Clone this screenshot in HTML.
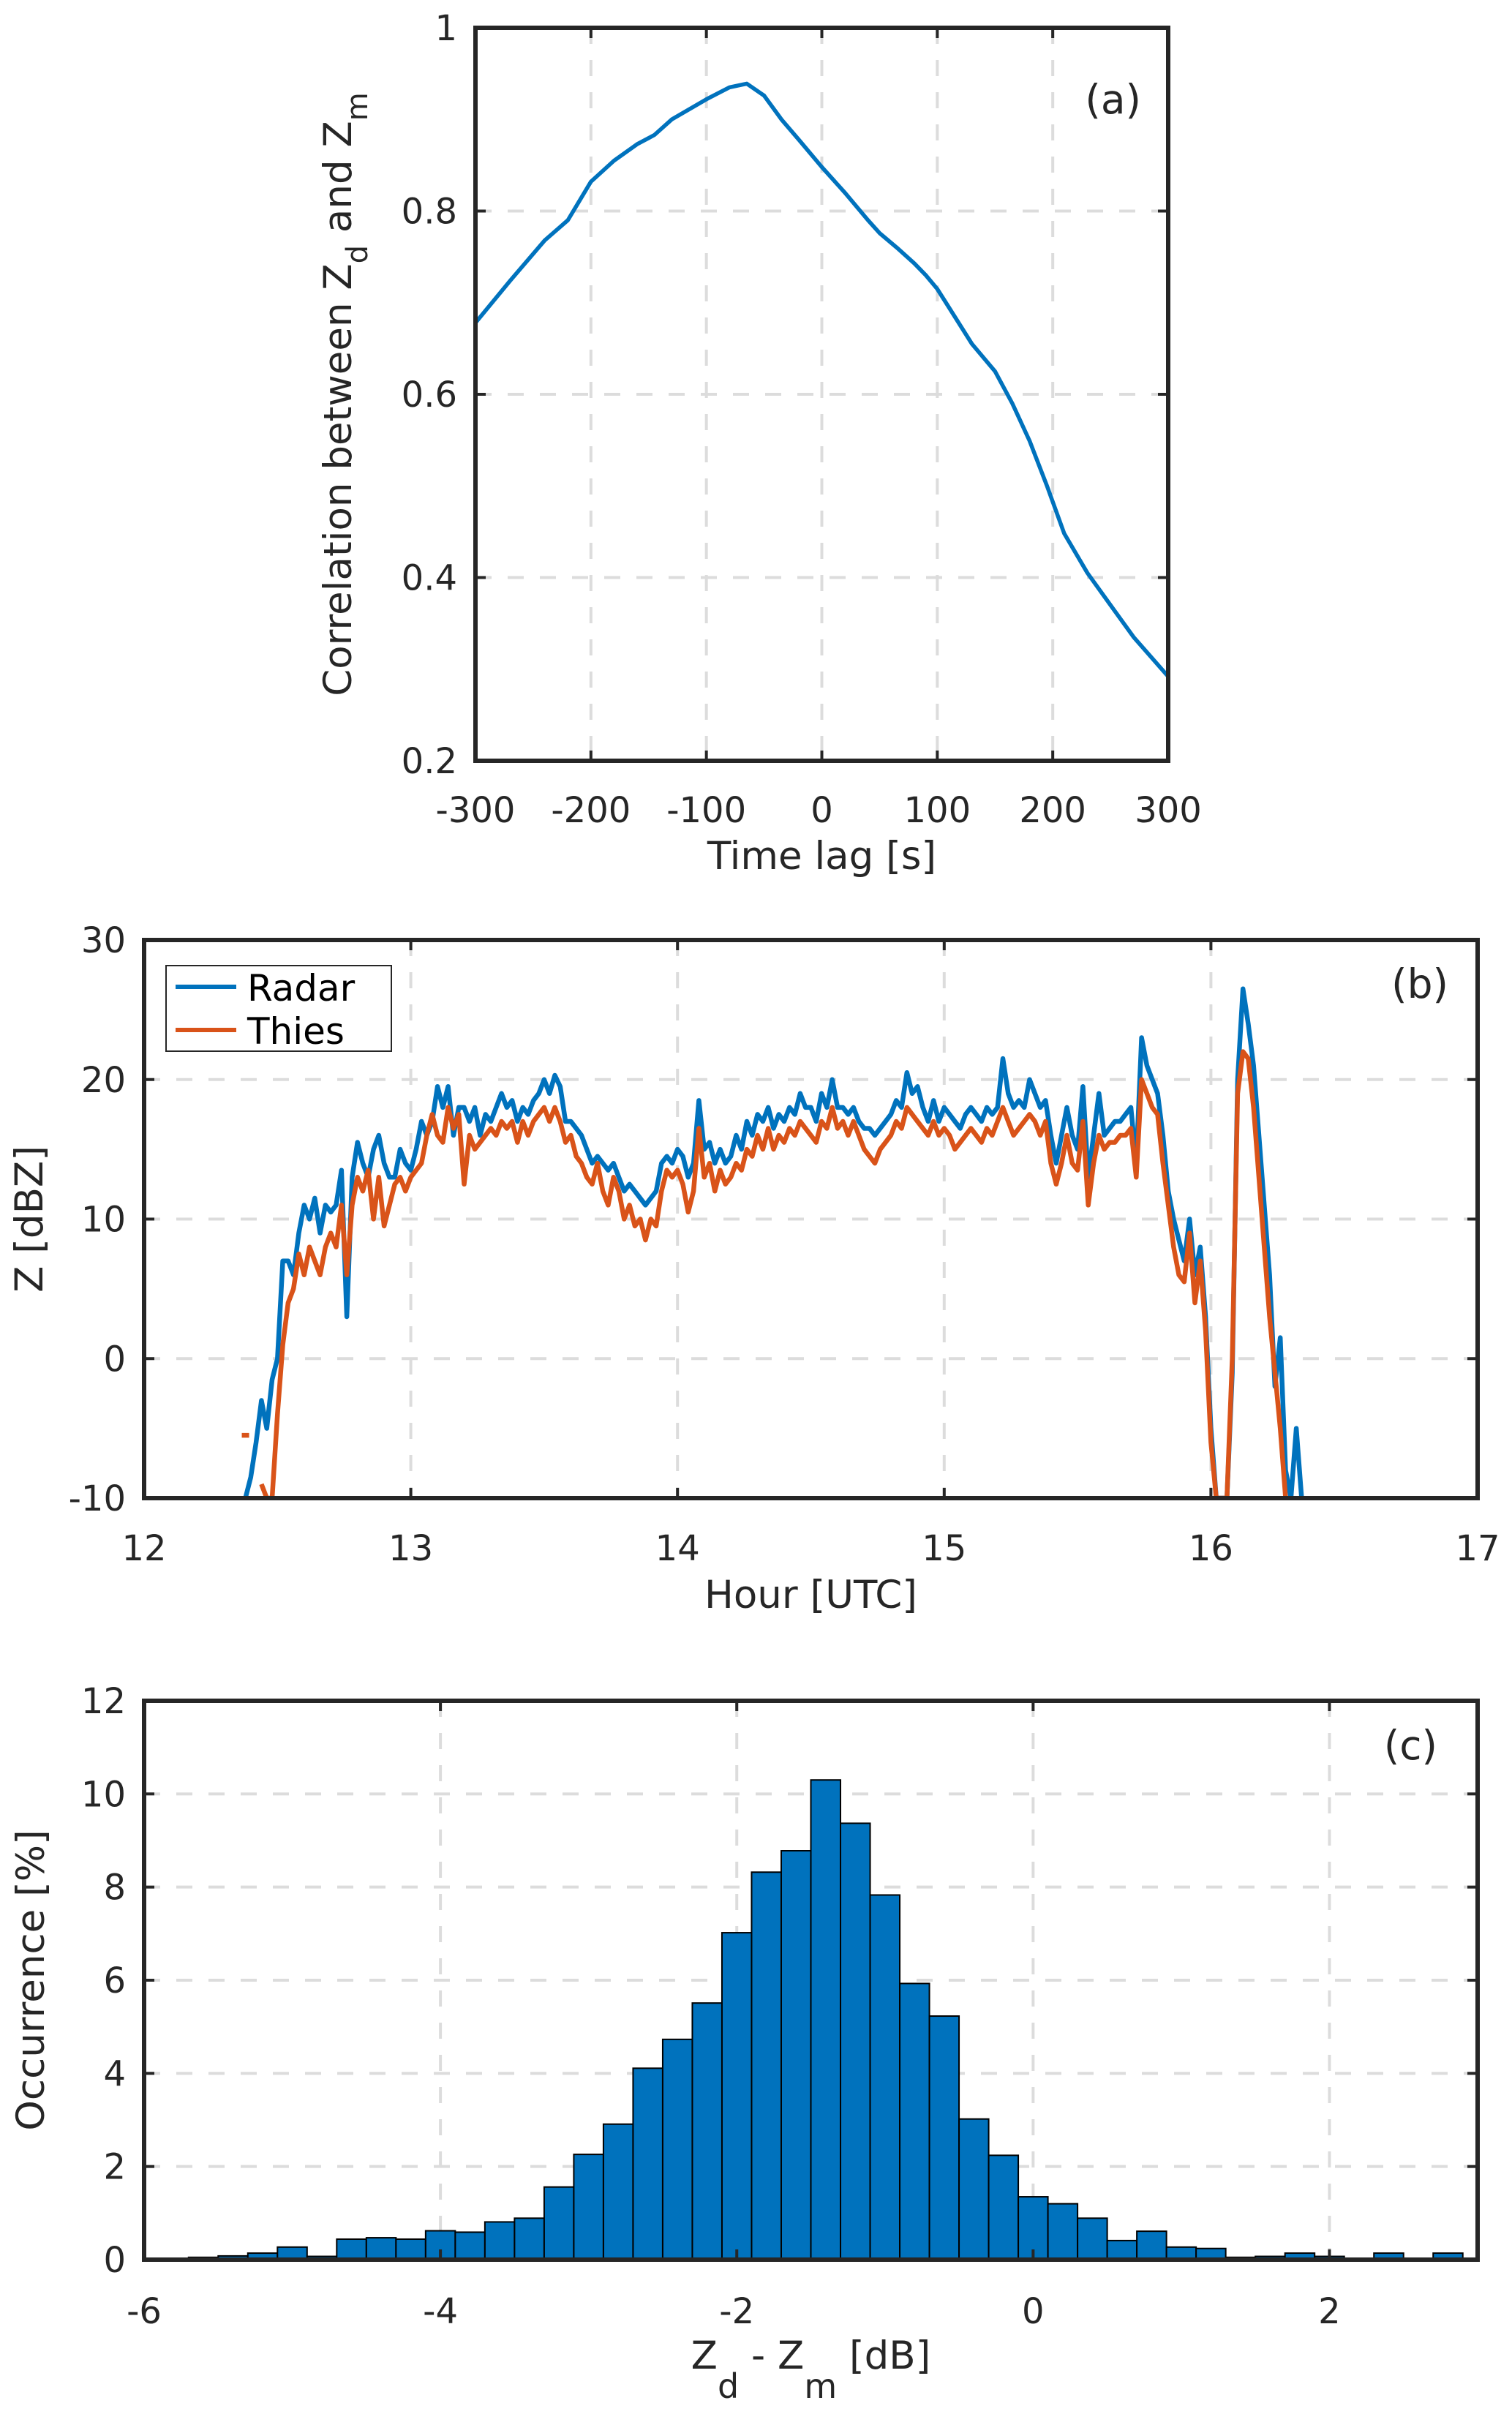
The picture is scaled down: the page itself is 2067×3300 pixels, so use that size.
<!DOCTYPE html>
<html><head><meta charset="utf-8">
<style>
html,body{margin:0;padding:0;background:#fff;}
svg{display:block;}
text{font-family:"DejaVu Sans","Liberation Sans",sans-serif;fill:#262626;}
</style></head>
<body>
<svg id="fig" width="2067" height="3300" viewBox="0 0 2067 3300" xmlns="http://www.w3.org/2000/svg"></svg>
<script>
// ---------- Panel (a) data ----------
const lagValues = [-300,-270,-240,-220,-200,-180,-160,-145,-130,-115,-100,-80,-65,-50,-35,-20,0,20,40,50,65,80,90,100,115,130,150,165,180,195,210,230,250,270,300];
const corrValues = [0.678,0.724,0.768,0.79,0.832,0.855,0.873,0.883,0.9,0.911,0.922,0.935,0.939,0.926,0.9,0.878,0.848,0.82,0.79,0.776,0.76,0.743,0.73,0.715,0.685,0.655,0.625,0.59,0.549,0.5,0.448,0.405,0.37,0.335,0.292];
const aXTicks = [-300,-200,-100,0,100,200,300];
const aYTicks = [0.2,0.4,0.6,0.8,1];
const aYTickLabels = ["0.2","0.4","0.6","0.8","1"];

// ---------- Panel (b) data ----------
const hourStart = 12.38;
const hourStep = 0.02;
const radarValues = [-10,-8.5,-6,-3,-5,-1.5,0,7,7,6,9,11,10,11.5,9,11,10.5,11,13.5,3,13,15.5,14,13,15,16,14,13,13,15,14,13.5,15,17,16,17,19.5,18,19.5,16,18,18,17,18,16,17.5,17,18,19,18,18.5,17,18,17.5,18.5,19,20,19,20.3,19.5,17,17,16.5,16,15,14,14.5,14,13.5,14,13,12,12.5,12,11.5,11,11.5,12,14,14.5,14,15,14.5,13,14,18.5,15,15.5,14,15,14,14.5,16,15,17,16,17.5,17,18,16.5,17.5,17,18,17.5,19,18,18,17,19,18,20,18,18,17.5,18,17,16.5,16.5,16,16.5,17,17.5,18.5,18,20.5,19,19.5,18,17,18.5,17,18,17.5,17,16.5,17.5,18,17.5,17,18,17.5,18,21.5,19,18,18.5,18,20,19,18,18.5,16,14,16,18,16,15,19.5,13,16,19,16,16.5,17,17,17.5,18,14,23,21,20,19,16,12,10,8.5,7,10,6,8,3,-5,-10,-10,-10,-1,20,26.5,24,21,16,11,6,-2,1.5,-8,-10,-5,-10];
const thiesValues = [-5.5,null,null,-9,-10,-10,-4,1,4,5,7.5,6,8,7,6,8,9,8,11,6,11,13,12,13.5,10,13,9.5,11,12.5,13,12,13,13.5,14,16,17.5,16,15.5,18,16.5,17.5,12.5,16,15,15.5,16,16.5,16,17,16.5,17,15.5,17,16,17,17.5,18,17,18,17,15.5,16,14.5,14,13,12.5,14,12,11,13,12,10,11,9.5,10,8.5,10,9.5,12,13.5,13,13.5,12.5,10.5,12,16.5,13,14,12,13.5,12.5,13,14,13.5,15,14.5,16,15,16.5,15,16,15.5,16.5,16,17,16.5,16,15.5,17,16.5,18,16.5,17,16,17,16,15,14.5,14,15,15.5,16,17,16.5,18,17.5,17,16.5,16,17,16,16.5,16,15,15.5,16,16.5,16,15.5,16.5,16,17,18,17,16,16.5,17,17.5,17,16,17,14,12.5,14,16,14,13.5,17,11,14,16,15,15.5,15.5,16,16,16.5,13,20,19,18,17.5,14,11,8,6,5.5,9,4,7,2,-6,-10,-10,-10,0,19,22,21.5,18,13,8,3,-1,-5,-10,null,null,null];
const bXTicks = [12,13,14,15,16,17];
const bYTicks = [-10,0,10,20,30];

// ---------- Panel (c) data ----------
const binLeftEdges = [-5.9,-5.7,-5.5,-5.3,-5.1,-4.9,-4.7,-4.5,-4.3,-4.1,-3.9,-3.7,-3.5,-3.3,-3.1,-2.9,-2.7,-2.5,-2.3,-2.1,-1.9,-1.7,-1.5,-1.3,-1.1,-0.9,-0.7,-0.5,-0.3,-0.1,0.1,0.3,0.5,0.7,0.9,1.1,1.3,1.5,1.7,1.9,2.1,2.3,2.5,2.7];
const occurrenceValues = [0.03,0.05,0.08,0.14,0.27,0.07,0.44,0.47,0.44,0.62,0.59,0.81,0.89,1.56,2.26,2.91,4.11,4.73,5.51,7.02,8.32,8.78,10.3,9.37,7.83,5.93,5.23,3.02,2.24,1.35,1.2,0.89,0.41,0.61,0.27,0.24,0.05,0.07,0.14,0.07,0.03,0.14,0.03,0.14];
const binWidth = 0.2;
const cXTicks = [-6,-4,-2,0,2];
const cYTicks = [0,2,4,6,8,10,12];

const NS = "http://www.w3.org/2000/svg";
const svg = document.getElementById('fig');
function mk(tag, attrs, parent){
  const e = document.createElementNS(NS, tag);
  for (const k in attrs) e.setAttribute(k, attrs[k]);
  (parent||svg).appendChild(e);
  return e;
}
function scale(d0,d1,r0,r1){ return v => r0 + (v-d0)/(d1-d0)*(r1-r0); }

function axesFrame(g, L, T, R, B, xs, ys, xt, yt, sx, sy, xl, yl, name){
  let el;
  xt.forEach(v=>{ if (sx(v)>L+3 && sx(v)<R-3){
    el = mk('line',{x1:sx(v),x2:sx(v),y1:T,y2:B,stroke:'#dcdcdc','stroke-width':4,'stroke-dasharray':'22,22'},g);
    
    
  }});
  yt.forEach(v=>{ if (sy(v)>T+3 && sy(v)<B-3){
    el = mk('line',{x1:L,x2:R,y1:sy(v),y2:sy(v),stroke:'#dcdcdc','stroke-width':4,'stroke-dasharray':'22,22'},g);
    
    
  }});
}
function axesBox(g, L, T, R, B, xt, yt, sx, sy, name){
  let el;
  xt.forEach(v=>{
    el = mk('line',{x1:sx(v),x2:sx(v),y1:B,y2:B-14,stroke:'#262626','stroke-width':4},g);
    
    
    el = mk('line',{x1:sx(v),x2:sx(v),y1:T,y2:T+14,stroke:'#262626','stroke-width':4},g);
    
    
  });
  yt.forEach(v=>{
    el = mk('line',{x1:L,x2:L+14,y1:sy(v),y2:sy(v),stroke:'#262626','stroke-width':4},g);
    
    
    el = mk('line',{x1:R,x2:R-14,y1:sy(v),y2:sy(v),stroke:'#262626','stroke-width':4},g);
    
    
  });
  el = mk('rect',{x:L,y:T,width:R-L,height:B-T,fill:'none',stroke:'#262626','stroke-width':6},g);
  
  
}
function txt(g, s, x, y, size, anchor, name){
  const t = mk('text',{x:x,y:y,'font-size':size,'text-anchor':anchor||'middle'},g);
  t.textContent = s;
  
  
  return t;
}

// ================= Panel A =================
(function(){
  const L=650,T=38,R=1597,B=1040;
  const sx=scale(-300,300,L,R), sy=scale(0.2,1,B,T);
  const g = mk('g',{});
  
  
  axesFrame(g,L,T,R,B,null,null,aXTicks,aYTicks,sx,sy,null,null,'panel-a');
  let d = lagValues.map((v,i)=>(i?'L':'M')+sx(v).toFixed(1)+','+sy(corrValues[i]).toFixed(1)).join(' ');
  let p = mk('path',{d:d,fill:'none',stroke:'#0072BD','stroke-width':5.5,'stroke-linejoin':'round'},g);
  
  
  axesBox(g,L,T,R,B,aXTicks,aYTicks,sx,sy,'panel-a');
  aXTicks.forEach(v=>txt(g,String(v),sx(v),1124,48,'middle','panel-a-x-tick-label'));
  aYTicks.forEach((v,i)=>txt(g,aYTickLabels[i],625,sy(v)+17,48,'end','panel-a-y-tick-label'));
  txt(g,'Time lag [s]',(L+R)/2,1188,53,'middle','panel-a-x-axis-title');
  const yl = mk('text',{transform:'translate(480,'+((T+B)/2)+') rotate(-90)','font-size':53,'text-anchor':'middle'},g);
  yl.innerHTML = 'Correlation between Z<tspan font-size="40" dy="22">d</tspan><tspan dy="-22"> and Z</tspan><tspan font-size="40" dy="22">m</tspan>';
  
  
  txt(g,'(a)',1560,155,55,'end','panel-a-label');
})();

// ================= Panel B =================
(function(){
  const L=197,T=1285,R=2020,B=2048;
  const sx=scale(12,17,L,R), sy=scale(-10,30,B,T);
  const g = mk('g',{});
  
  
  const cp = mk('clipPath',{id:'clipb'},g);
  mk('rect',{x:L,y:T,width:R-L,height:B-T},cp);
  axesFrame(g,L,T,R,B,null,null,bXTicks,bYTicks,sx,sy,null,null,'panel-b');
  function series(vals,color,name){
    let segs=[], cur=[];
    vals.forEach((v,i)=>{
      if (v===null){ if(cur.length) segs.push(cur); cur=[]; }
      else cur.push([sx(hourStart+i*hourStep), sy(v)]);
    });
    if(cur.length) segs.push(cur);
    let d='';
    segs.forEach(s=>{
      if (s.length===1) d+='M'+(s[0][0]-5)+','+s[0][1]+' L'+(s[0][0]+5)+','+s[0][1]+' ';
      else d+=s.map((p,i)=>(i?'L':'M')+p[0].toFixed(1)+','+p[1].toFixed(1)).join(' ')+' ';
    });
    const p = mk('path',{d:d,fill:'none',stroke:color,'stroke-width':6.5,'stroke-linejoin':'round','clip-path':'url(#clipb)'},g);
    
    
  }
  series(radarValues,'#0072BD','radar-line');
  series(thiesValues,'#D95319','thies-line');
  axesBox(g,L,T,R,B,bXTicks,bYTicks,sx,sy,'panel-b');
  bXTicks.forEach(v=>txt(g,String(v),sx(v),2133,48,'middle','panel-b-x-tick-label'));
  bYTicks.forEach(v=>txt(g,String(v),172,sy(v)+17,48,'end','panel-b-y-tick-label'));
  txt(g,'Hour [UTC]',(L+R)/2,2198,53,'middle','panel-b-x-axis-title');
  const yl = mk('text',{transform:'translate(58,'+((T+B)/2)+') rotate(-90)','font-size':53,'text-anchor':'middle'},g);
  yl.textContent='Z [dBZ]';
  
  
  const lg = mk('g',{},g);
  
  
  let el = mk('rect',{x:227,y:1320,width:308,height:117,fill:'#fff',stroke:'#262626','stroke-width':2},lg);
  
  
  el = mk('line',{x1:240,x2:323,y1:1349,y2:1349,stroke:'#0072BD','stroke-width':6},lg);
  
  
  el = mk('line',{x1:240,x2:323,y1:1408,y2:1408,stroke:'#D95319','stroke-width':6},lg);
  
  
  const t1 = txt(lg,'Radar',338,1368,50,'start','legend-radar-label'); t1.setAttribute('style','fill:#000');
  const t2 = txt(lg,'Thies',338,1427,50,'start','legend-thies-label'); t2.setAttribute('style','fill:#000');
  txt(g,'(b)',1980,1364,55,'end','panel-b-label');
})();

// ================= Panel C =================
(function(){
  const L=197,T=2325,R=2020,B=3089;
  const sx=scale(-6,3,L,R), sy=scale(0,12,B,T);
  const g = mk('g',{});
  
  
  axesFrame(g,L,T,R,B,null,null,cXTicks,cYTicks,sx,sy,null,null,'panel-c');
  binLeftEdges.forEach((e,i)=>{
    const x0=Math.max(sx(e),L), x1=sx(e+binWidth), y=sy(occurrenceValues[i]);
    const r = mk('rect',{x:x0,y:y,width:x1-x0,height:B-y,fill:'#0072BD',stroke:'#000','stroke-width':2},g);
    
    
  });
  axesBox(g,L,T,R,B,cXTicks,cYTicks,sx,sy,'panel-c');
  cXTicks.forEach(v=>txt(g,String(v),sx(v),3176,48,'middle','panel-c-x-tick-label'));
  cYTicks.forEach(v=>txt(g,String(v),172,sy(v)+17,48,'end','panel-c-y-tick-label'));
  const xl = mk('text',{x:(L+R)/2,y:3238,'font-size':53,'text-anchor':'middle'},g);
  xl.innerHTML = 'Z<tspan font-size="46" dy="40">d</tspan><tspan dy="-40"> - Z</tspan><tspan font-size="46" dy="40">m</tspan><tspan dy="-40"> [dB]</tspan>';
  
  
  const yl = mk('text',{transform:'translate(60,'+((T+B)/2)+') rotate(-90)','font-size':53,'text-anchor':'middle'},g);
  yl.textContent='Occurrence [%]';
  
  
  txt(g,'(c)',1965,2405,55,'end','panel-c-label');
})();
</script>
</body></html>
